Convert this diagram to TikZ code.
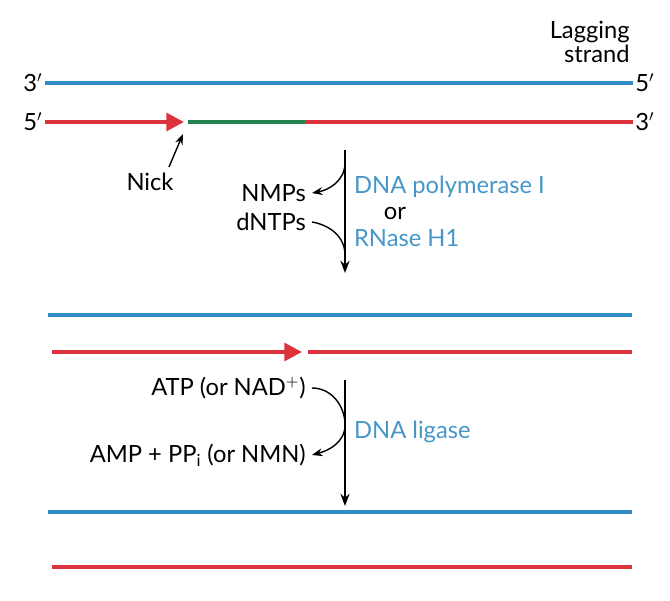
\documentclass[tikz,border=0pt]{standalone}
\usepackage{fontspec}
\setmainfont{Lato}
\usetikzlibrary{arrows.meta}
\definecolor{strandblue}{RGB}{50,140,200}
\definecolor{strandred}{RGB}{220,50,60}
\definecolor{primergreen}{RGB}{35,130,80}
\definecolor{enzymeblue}{RGB}{70,150,200}
\begin{document}
\begin{tikzpicture}[x=0.02cm, y=-0.02cm, font=\fontsize{13.5}{14}\selectfont]
    % Define styles
    \tikzset{
        strand/.style={line width=2.2pt},
        reaction/.style={thick,-{Stealth[length=7pt]}},
        sidearrow/.style={thick,-{Stealth[length=6pt]}},
        enzyme/.style={text=enzymeblue, anchor=west, inner sep=1pt},
        strandend/.style={inner sep=1pt}
    }
    \useasboundingbox (0,0) rectangle (670,601);

    % Top duplex
    \node[anchor=east, align=right, inner sep=0pt] (lag) at (630,42) {Lagging\\strand};
    \node[strandend] (t3) at (33,83) {3$'$};
    \node[strandend] (t5) at (645,83) {5$'$};
    \node[strandend] (b5) at (33,122) {5$'$};
    \node[strandend] (b3) at (645,122) {3$'$};
    \coordinate (nick) at (184,122);
    \coordinate (rnaa) at (188,122);
    \coordinate (rnab) at (305,122);
    \draw[strand, strandblue] (t3) -- (t5);
    \draw[strand, strandred, -{Triangle[length=10pt,width=10pt]}] (b5) -- (nick);
    \draw[strand, primergreen] (rnaa) -- (rnab);
    \draw[strand, strandred] (rnab) -- (b3);
    \node (nicklbl) at (150,182) {Nick};
    \coordinate (nicktail) at (169,167);
    \draw[thick, -{Stealth[length=6pt]}] (nicktail) -- (183,134);

    % First step
    \coordinate (s1a) at (345,150);
    \coordinate (s1b) at (345,273);
    \draw[reaction] (s1a) -- (s1b);
    \node[anchor=east] (nmp) at (312,193) {NMPs};
    \node[anchor=east] (dntp) at (312,222) {dNTPs};
    \draw[sidearrow] (345,163) to[out=-90, in=10] (nmp.east);
    \draw[thick] (dntp.east) to[out=-10, in=90] (345,255);
    \node[enzyme] (pol) at (352,187) {DNA polymerase I};
    \node (or) at (395,213) {or};
    \node[enzyme] (rnh) at (352,238) {RNase H1};

    % Middle duplex
    \coordinate (m1) at (48,315);
    \coordinate (m2) at (632,315);
    \coordinate (m3) at (52,352);
    \coordinate (m4) at (302,352);
    \coordinate (m5) at (308,352);
    \coordinate (m6) at (632,352);
    \draw[strand, strandblue] (m1) -- (m2);
    \draw[strand, strandred, -{Triangle[length=10pt,width=10pt]}] (m3) -- (m4);
    \draw[strand, strandred] (m5) -- (m6);

    % Second step
    \coordinate (s2a) at (345,380);
    \coordinate (s2b) at (345,506);
    \draw[reaction] (s2a) -- (s2b);
    \node[anchor=east] (atp) at (312,388) {ATP (or NAD$^{+}$)};
    \node[anchor=east] (amp) at (312,455) {AMP + PP$_{\mathrm{i}}$ (or NMN)};
    \draw[sidearrow] (atp.east) to[out=0, in=90] (345,425) to[out=-90, in=15] (amp.east);
    \node[enzyme] (lig) at (352,432) {DNA ligase};

    % Bottom duplex
    \coordinate (e1) at (48,512);
    \coordinate (e2) at (632,512);
    \coordinate (e3) at (52,567);
    \coordinate (e4) at (632,567);
    \draw[strand, strandblue] (e1) -- (e2);
    \draw[strand, strandred] (e3) -- (e4);
\end{tikzpicture}
\end{document}
